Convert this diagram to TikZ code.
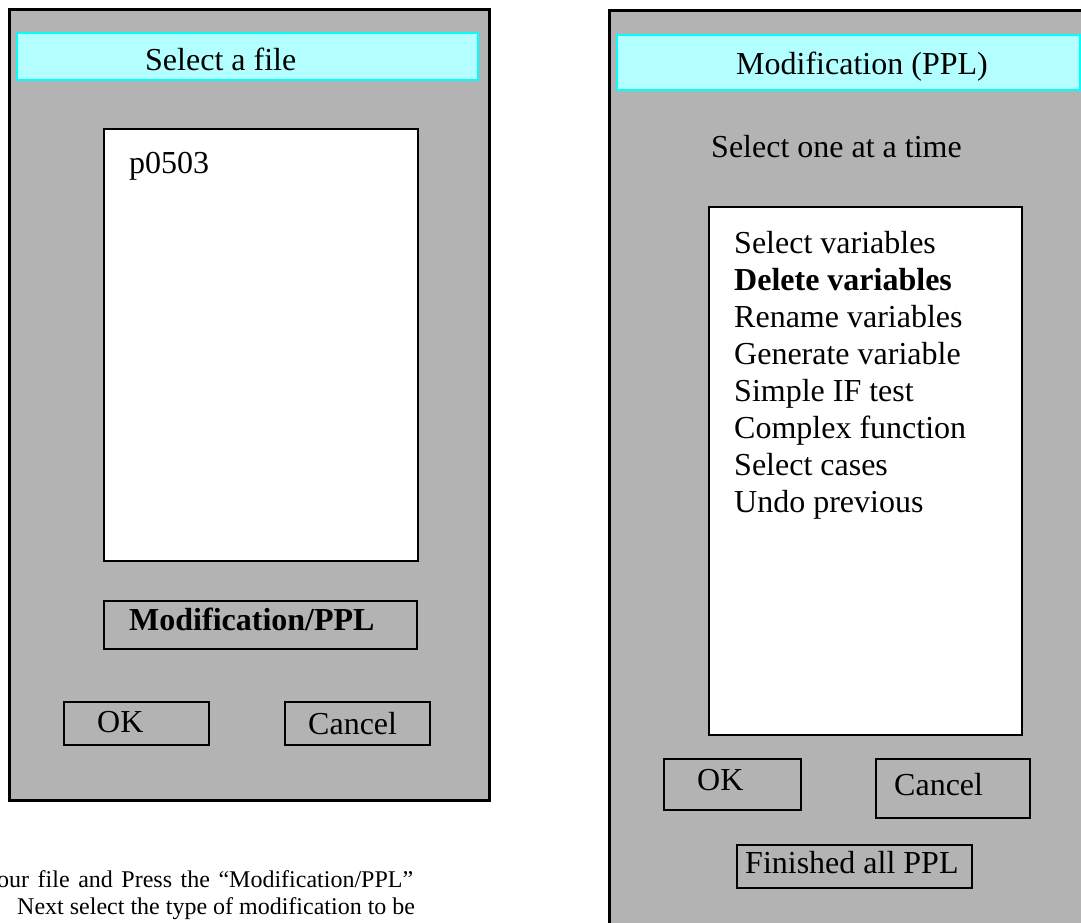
\documentclass[tikz,border=0pt]{standalone}
\usepackage{fontspec}
\setmainfont{Liberation Serif}
\definecolor{panelgray}{RGB}{179,179,179}
\definecolor{titlefill}{RGB}{179,255,255}
\definecolor{titleedge}{RGB}{0,255,255}
\begin{document}
\begin{tikzpicture}[x=1pt,y=-1pt,
  panel/.style={draw=black,line width=3pt,fill=panelgray},
  titlebar/.style={draw=titleedge,line width=2pt,fill=titlefill},
  listbox/.style={draw=black,line width=2pt,fill=white},
  btn/.style={draw=black,line width=2pt},
  lbl/.style={anchor=base west,inner sep=0pt,font=\fontsize{32}{37}\selectfont},
  note/.style={inner sep=0pt,font=\fontsize{24}{27}\selectfont}]
\useasboundingbox (0,0) rectangle (1081,922);
\clip (0,0) rectangle (1081,922);
\fill[white] (0,0) rectangle (1081,922);

% ---- left dialog ----
\draw[panel] (9,9) rectangle (489,800);
\draw[titlebar] (17,33) rectangle (478,80);
\node[lbl] (ltitle) at (145,70) {Select a file};
\draw[listbox] (104,129) rectangle (418,561);
\node[lbl] (file) at (129,173) {p0503};
\draw[btn] (104,601) rectangle (417,649);
\node[lbl,font=\fontsize{32}{37}\selectfont\bfseries] (modbtn) at (129,630) {Modification/PPL};
\draw[btn] (64,702) rectangle (209,745);
\node[lbl] (lok) at (97,732) {OK};
\draw[btn] (285,702) rectangle (430,745);
\node[lbl] (lcancel) at (308,734) {Cancel};

% ---- caption text ----
\node[note,anchor=base west] (note1) at (-3,887) {\makebox[416pt][s]{our file and Press the “Modification/PPL”}};
\node[note,anchor=base west] (note2) at (17,914) {Next select the type of modification to be};

% ---- right dialog ----
\draw[panel] (609,10) rectangle (1100,950);
\draw[titlebar] (617,35) rectangle (1080,90);
\node[lbl,anchor=base] (rtitle) at (862,74) {Modification (PPL)};
\node[lbl] (hint) at (711,157) {Select one at a time};
\draw[listbox] (709,207) rectangle (1022,735);
\node[lbl] (i1) at (734,253) {Select variables};
\node[lbl,font=\fontsize{32}{37}\selectfont\bfseries] (i2) at (734,290) {Delete variables};
\node[lbl] (i3) at (734,327) {Rename variables};
\node[lbl] (i4) at (734,364) {Generate variable};
\node[lbl] (i5) at (734,401) {Simple IF test};
\node[lbl] (i6) at (734,438) {Complex function};
\node[lbl] (i7) at (734,475) {Select cases};
\node[lbl] (i8) at (734,512) {Undo previous};
\draw[btn] (664,759) rectangle (801,810);
\node[lbl] (rok) at (697,790) {OK};
\draw[btn] (876,759) rectangle (1030,818);
\node[lbl] (rcancel) at (894,795) {Cancel};
\draw[btn] (737,845) rectangle (972,888);
\node[lbl] (finish) at (745,873) {Finished all PPL};
\end{tikzpicture}
\end{document}
